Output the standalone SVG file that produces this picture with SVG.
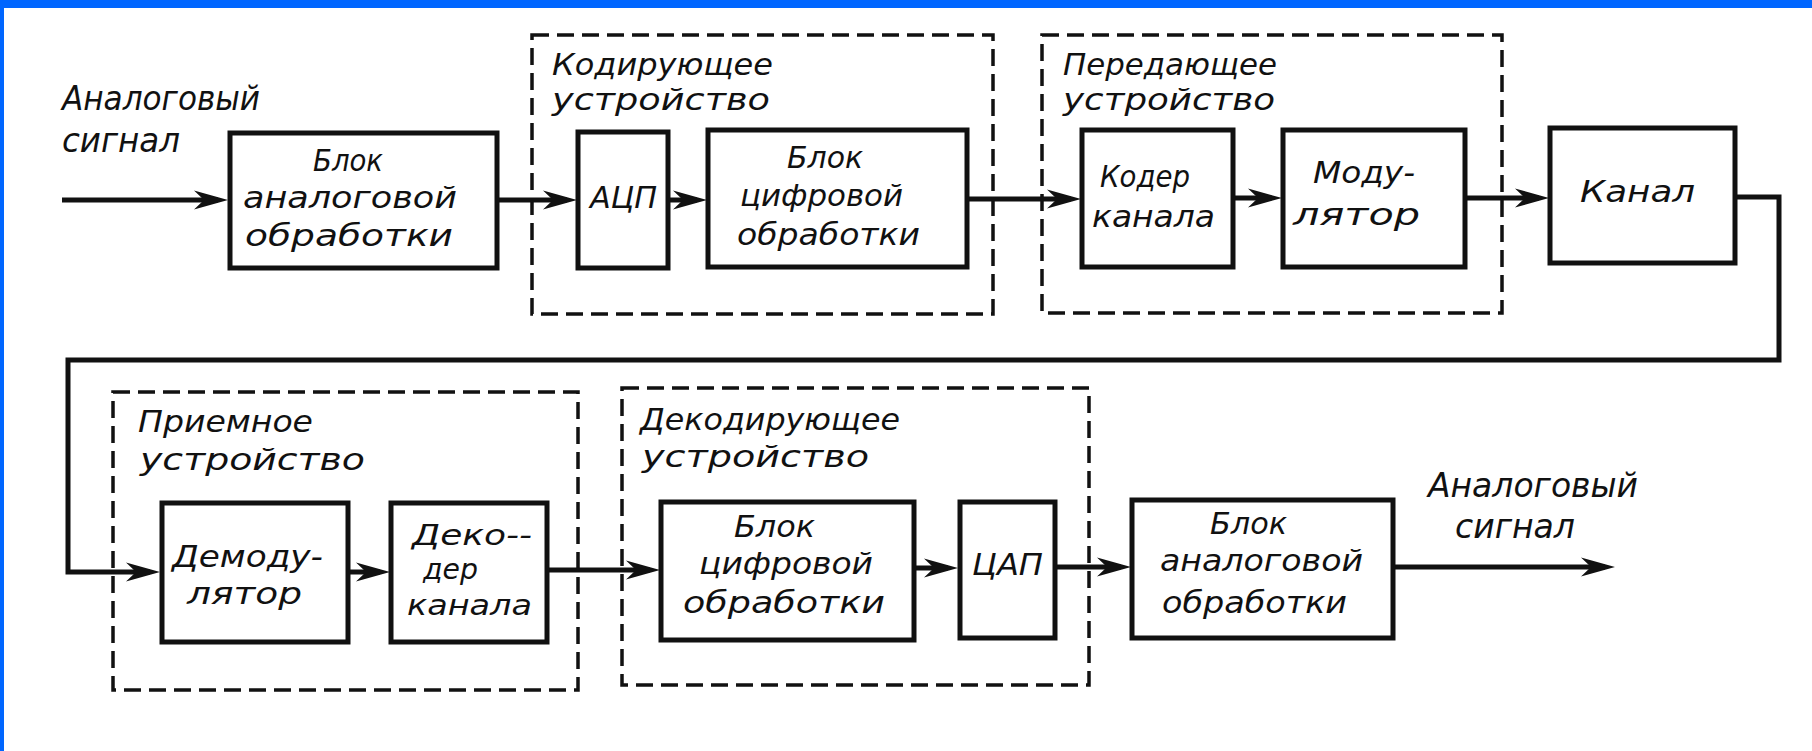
<svg xmlns="http://www.w3.org/2000/svg" width="1812" height="751" viewBox="0 0 1812 751">
<defs>
<style>
.bg{fill:#ffffff}
.frame{fill:#0066ff}
.box{fill:#ffffff;stroke:#111;stroke-width:5}
.grp{fill:none;stroke:#111;stroke-width:3.5;stroke-dasharray:17 8}
.wire{fill:none;stroke:#111;stroke-width:5}
text{font-family:"DejaVu Sans Condensed","DejaVu Sans","Liberation Sans",sans-serif;font-style:italic;fill:#111}
.t{font-size:30px}
.h{font-size:30px}
.s{font-size:33px}
</style>
<marker id="arr" markerUnits="userSpaceOnUse" markerWidth="36" markerHeight="22" viewBox="0 0 36 22" refX="24" refY="11" orient="auto">
<path d="M0,1.5 L34,11 L0,20.5 L10,11 Z" fill="#111"/>
</marker>
</defs>
<rect class="bg" x="0" y="0" width="1812" height="751"/>
<rect class="frame" x="0" y="0" width="1812" height="8"/>
<rect class="frame" x="0" y="0" width="4" height="751"/>

<g id="grp-coder">
<rect class="grp" x="532" y="35" width="461" height="279"/>
<text class="h" x="552" y="75" textLength="221" lengthAdjust="spacingAndGlyphs">Кодирующее</text>
<text class="h" x="552" y="110" textLength="218" lengthAdjust="spacingAndGlyphs">устройство</text>
</g>
<g id="grp-tx">
<rect class="grp" x="1042" y="35" width="460" height="278"/>
<text class="h" x="1063" y="75" textLength="214" lengthAdjust="spacingAndGlyphs">Передающее</text>
<text class="h" x="1063" y="110" textLength="212" lengthAdjust="spacingAndGlyphs">устройство</text>
</g>
<g id="grp-rx">
<rect class="grp" x="113" y="392" width="465" height="298"/>
<text class="h" x="138" y="432" textLength="175" lengthAdjust="spacingAndGlyphs">Приемное</text>
<text class="h" x="140" y="470" textLength="225" lengthAdjust="spacingAndGlyphs">устройство</text>
</g>
<g id="grp-decoder">
<rect class="grp" x="622" y="388" width="467" height="297"/>
<text class="h" x="640" y="430" textLength="260" lengthAdjust="spacingAndGlyphs">Декодирующее</text>
<text class="h" x="642" y="467" textLength="227" lengthAdjust="spacingAndGlyphs">устройство</text>
</g>

<g id="label-in">
<text class="s" x="62" y="110" textLength="198" lengthAdjust="spacingAndGlyphs">Аналоговый</text>
<text class="s" x="62" y="152" textLength="118" lengthAdjust="spacingAndGlyphs">сигнал</text>
</g>
<g id="label-out">
<text class="s" x="1428" y="497" textLength="210" lengthAdjust="spacingAndGlyphs">Аналоговый</text>
<text class="s" x="1455" y="538" textLength="120" lengthAdjust="spacingAndGlyphs">сигнал</text>
</g>

<g id="connectors">
<path class="wire" marker-end="url(#arr)" d="M62,200 H218"/>
<path class="wire" marker-end="url(#arr)" d="M497,200 H567"/>
<path class="wire" marker-end="url(#arr)" d="M668,200 H697"/>
<path class="wire" marker-end="url(#arr)" d="M967,199 H1071"/>
<path class="wire" marker-end="url(#arr)" d="M1233,198 H1272"/>
<path class="wire" marker-end="url(#arr)" d="M1465,198 H1539"/>
<path class="wire" marker-end="url(#arr)" d="M1735,197 H1779 V360 H68 V572 H150"/>
<path class="wire" marker-end="url(#arr)" d="M348,572 H380"/>
<path class="wire" marker-end="url(#arr)" d="M547,570 H650"/>
<path class="wire" marker-end="url(#arr)" d="M914,568 H948"/>
<path class="wire" marker-end="url(#arr)" d="M1055,567 H1121"/>
<path class="wire" marker-end="url(#arr)" d="M1393,567 H1605"/>
</g>

<g id="analog-in">
<rect class="box" x="230" y="133" width="267" height="135"/>
<text class="t" x="313" y="171" textLength="70" lengthAdjust="spacingAndGlyphs">Блок</text>
<text class="t" x="243" y="208" textLength="214" lengthAdjust="spacingAndGlyphs">аналоговой</text>
<text class="t" x="245" y="246" textLength="208" lengthAdjust="spacingAndGlyphs">обработки</text>
</g>
<g id="adc">
<rect class="box" x="578" y="132" width="90" height="136"/>
<text class="t" x="590" y="208" textLength="67" lengthAdjust="spacingAndGlyphs">АЦП</text>
</g>
<g id="digital-tx">
<rect class="box" x="708" y="130" width="259" height="137"/>
<text class="t" x="787" y="168" textLength="76" lengthAdjust="spacingAndGlyphs">Блок</text>
<text class="t" x="740" y="206" textLength="163" lengthAdjust="spacingAndGlyphs">цифровой</text>
<text class="t" x="737" y="245" textLength="183" lengthAdjust="spacingAndGlyphs">обработки</text>
</g>
<g id="channel-coder">
<rect class="box" x="1082" y="130" width="151" height="137"/>
<text class="t" x="1100" y="187" textLength="90" lengthAdjust="spacingAndGlyphs">Кодер</text>
<text class="t" x="1092" y="227" textLength="123" lengthAdjust="spacingAndGlyphs">канала</text>
</g>
<g id="modulator">
<rect class="box" x="1283" y="130" width="182" height="137"/>
<text class="t" x="1313" y="183" textLength="102" lengthAdjust="spacingAndGlyphs">Моду-</text>
<text class="t" x="1293" y="225" textLength="127" lengthAdjust="spacingAndGlyphs">лятор</text>
</g>
<g id="channel">
<rect class="box" x="1550" y="128" width="185" height="135"/>
<text class="t" x="1580" y="202" textLength="115" lengthAdjust="spacingAndGlyphs">Канал</text>
</g>

<g id="demodulator">
<rect class="box" x="162" y="503" width="186" height="139"/>
<text class="t" x="172" y="567" textLength="151" lengthAdjust="spacingAndGlyphs">Демоду-</text>
<text class="t" x="187" y="604" textLength="115" lengthAdjust="spacingAndGlyphs">лятор</text>
</g>
<g id="channel-decoder">
<rect class="box" x="391" y="503" width="156" height="139"/>
<text class="t" x="412" y="545" textLength="120" lengthAdjust="spacingAndGlyphs" style="font-size:28px">Деко--</text>
<text class="t" x="423" y="579" textLength="55" lengthAdjust="spacingAndGlyphs" style="font-size:28px">дер</text>
<text class="t" x="407" y="615" textLength="125" lengthAdjust="spacingAndGlyphs" style="font-size:28px">канала</text>
</g>
<g id="digital-rx">
<rect class="box" x="661" y="502" width="253" height="138"/>
<text class="t" x="734" y="537" textLength="81" lengthAdjust="spacingAndGlyphs">Блок</text>
<text class="t" x="699" y="574" textLength="174" lengthAdjust="spacingAndGlyphs">цифровой</text>
<text class="t" x="683" y="613" textLength="202" lengthAdjust="spacingAndGlyphs">обработки</text>
</g>
<g id="dac">
<rect class="box" x="960" y="502" width="95" height="136"/>
<text class="t" x="972" y="575" textLength="71" lengthAdjust="spacingAndGlyphs">ЦАП</text>
</g>
<g id="analog-out">
<rect class="box" x="1132" y="500" width="261" height="138"/>
<text class="t" x="1210" y="534" textLength="77" lengthAdjust="spacingAndGlyphs">Блок</text>
<text class="t" x="1160" y="571" textLength="203" lengthAdjust="spacingAndGlyphs">аналоговой</text>
<text class="t" x="1162" y="613" textLength="185" lengthAdjust="spacingAndGlyphs">обработки</text>
</g>
</svg>
